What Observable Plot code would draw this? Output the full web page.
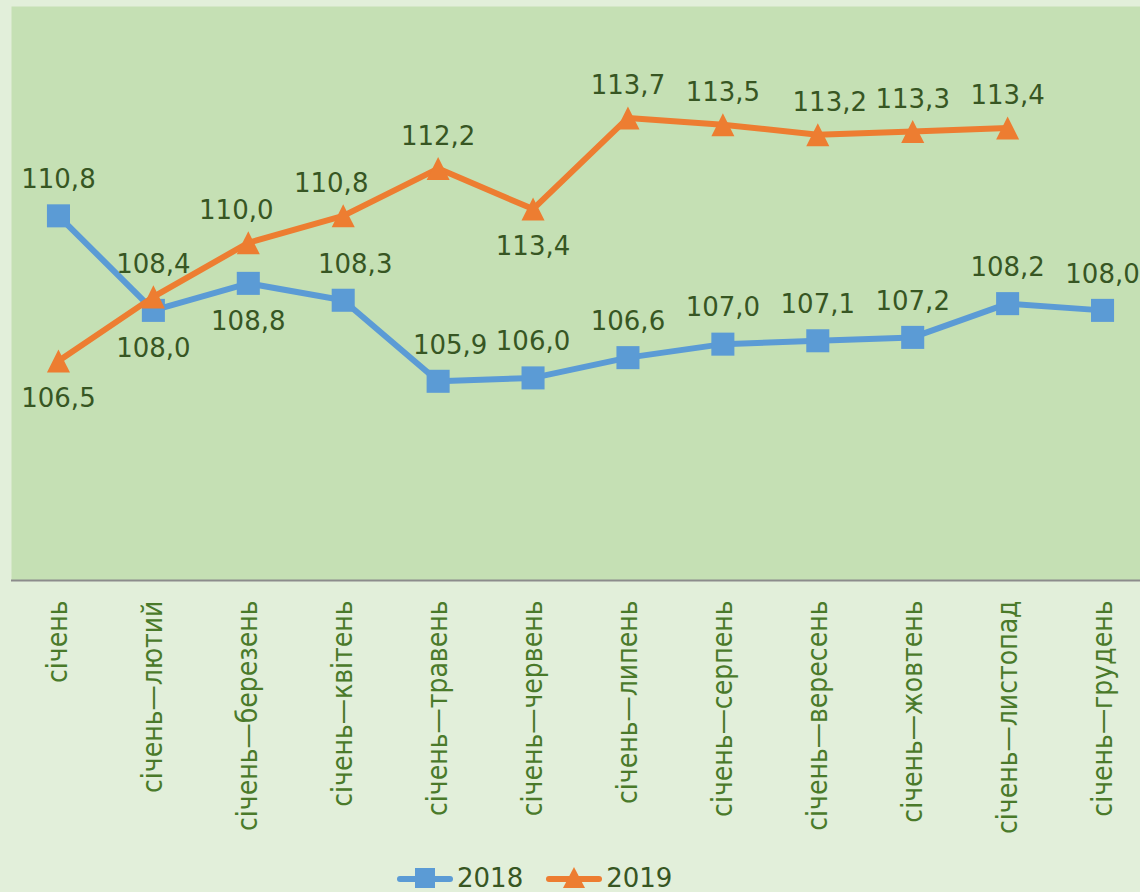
<!DOCTYPE html>
<html>
<head>
<meta charset="utf-8">
<script src="https://cdn.jsdelivr.net/npm/d3@7"></script>
<script src="https://cdn.jsdelivr.net/npm/@observablehq/plot@0.6"></script>
<style>
  html, body { margin: 0; padding: 0; background: #e2efda; }
  #wrap { position: relative; width: 1140px; height: 892px; overflow: hidden; background: #e2efda; }
  #chart svg { display: block; }
  #legend { position: absolute; left: 397px; top: 862px; height: 32px; display: flex; align-items: center;
            font-family: "DejaVu Sans", Verdana, sans-serif; font-size: 26px; color: #375623; }
  .item { display: flex; align-items: center; }
  .item + .item { margin-left: 23px; }
  .item span { margin-left: 4px; line-height: 32px; }
</style>
</head>
<body>
<div id="wrap">
  <div id="chart"></div>
  <div id="legend"></div>
</div>
<script>
// ---- data ----
const months = ["січень", "січень—лютий", "січень—березень", "січень—квітень", "січень—травень",
  "січень—червень", "січень—липень", "січень—серпень", "січень—вересень", "січень—жовтень",
  "січень—листопад", "січень—грудень"];
const series = ["2018", "2019"];
const values2018 = [110.8, 108.0, 108.8, 108.3, 105.9, 106.0, 106.6, 107.0, 107.1, 107.2, 108.2, 108.0];
const values2019 = [106.5, 108.4, 110.0, 110.8, 112.2, 111.0, 113.7, 113.5, 113.2, 113.3, 113.4];
const labels2018 = ["110,8", "108,0", "108,8", "108,3", "105,9", "106,0", "106,6", "107,0", "107,1", "107,2", "108,2", "108,0"];
const labels2019 = ["106,5", "108,4", "110,0", "110,8", "112,2", "113,4", "113,7", "113,5", "113,2", "113,3", "113,4"];
const place2018 = ["above", "below", "below", "above-right", "above-right", "above", "above", "above", "above", "above", "above", "above"];
const place2019 = ["below", "above", "above-left", "above-left", "above", "below", "above", "above", "above-right", "above", "above"];

// ---- build rows ----
const rows2018 = values2018.map((v, i) => ({month: months[i], value: v, label: labels2018[i], place: place2018[i]}));
const rows2019 = values2019.map((v, i) => ({month: months[i], value: v, label: labels2019[i], place: place2019[i]}));

const colors = {"2018": "#5b9bd5", "2019": "#ed7d31"};
const labelColor = "#375623";
const axisColor = "#4a7a2a";

// isosceles triangle centred on its bounding box (as in the original)
const triangle = {
  draw(ctx, size) {
    const h = Math.sqrt(size) / 2;
    ctx.moveTo(0, -h);
    ctx.lineTo(h, h);
    ctx.lineTo(-h, h);
    ctx.closePath();
  }
};

function labelMarks(rows, aboveDy) {
  const conf = {
    "above": {dx: 0, dy: aboveDy},
    "above-left": {dx: -12, dy: aboveDy},
    "above-right": {dx: 12, dy: aboveDy},
    "below": {dx: 0, dy: 38}
  };
  return Object.entries(conf).map(([k, o]) =>
    Plot.text(rows.filter(d => d.place === k), {
      x: "month", y: "value", text: "label", dx: o.dx, dy: o.dy,
      fontSize: 26, fontFamily: "DejaVu Sans, Verdana, sans-serif", fill: labelColor
    }));
}

const chart = Plot.plot({
  width: 1140,
  height: 858,
  marginLeft: 11,
  marginRight: 0,
  marginTop: 6,
  marginBottom: 278,
  style: {background: "transparent", overflow: "visible"},
  x: {type: "point", domain: months, padding: 0.5, round: false, range: [10.5, 1149.5], label: null},
  y: {domain: [100, 117], axis: null},
  marks: [
    Plot.frame({fill: "#c5e0b4", stroke: null}),
    Plot.ruleY([100], {stroke: "#8c8c8c", strokeWidth: 2}),
    Plot.axisX({tickRotate: -90, tickSize: 0, tickPadding: 20, fontSize: 28,
      fontFamily: "DejaVu Sans Condensed, DejaVu Sans, sans-serif", color: axisColor, label: null}),
    Plot.line(rows2018, {x: "month", y: "value", stroke: colors["2018"], strokeWidth: 6,
      strokeLinejoin: "round", strokeLinecap: "round"}),
    Plot.dot(rows2018, {x: "month", y: "value", symbol: "square", r: 13, fill: colors["2018"], stroke: null}),
    Plot.line(rows2019, {x: "month", y: "value", stroke: colors["2019"], strokeWidth: 6,
      strokeLinejoin: "round", strokeLinecap: "round"}),
    Plot.dot(rows2019, {x: "month", y: "value", symbol: triangle, r: 13, fill: colors["2019"], stroke: null}),
    ...labelMarks(rows2018, -36),
    ...labelMarks(rows2019, -32)
  ]
});
document.getElementById("chart").appendChild(chart);

// ---- legend ----
const legend = document.getElementById("legend");
series.forEach(s => {
  const item = document.createElement("div");
  item.className = "item";
  const c = colors[s];
  const shape = s === "2018"
    ? `<rect x="18" y="4" width="20" height="20" fill="${c}"/>`
    : `<path d="M28,3 L39,24 L17,24 Z" fill="${c}"/>`;
  item.innerHTML = `<svg width="56" height="28" viewBox="0 0 56 28"><line x1="3" y1="15" x2="53" y2="15" stroke="${c}" stroke-width="6" stroke-linecap="round"/>${shape}</svg><span>${s}</span>`;
  legend.appendChild(item);
});
</script>
</body>
</html>
